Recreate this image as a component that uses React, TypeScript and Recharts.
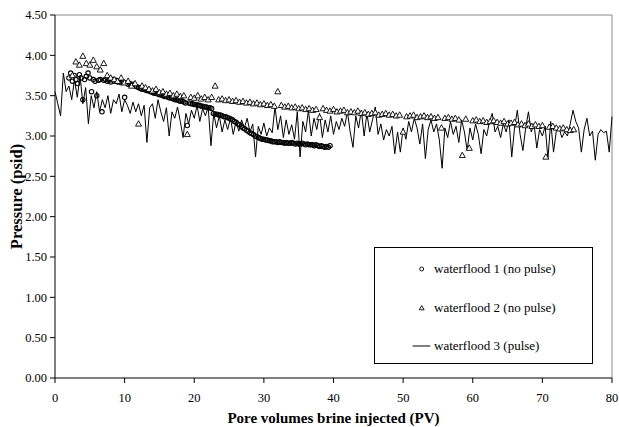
import { ScatterChart, Scatter, XAxis, YAxis, ReferenceLine, Legend } from 'recharts';

const FONT = '"Liberation Serif", "Times New Roman", serif';

const pvTicks = [0, 10, 20, 30, 40, 50, 60, 70, 80];
const pressureTicks = [0, 0.5, 1, 1.5, 2, 2.5, 3, 3.5, 4, 4.5];
const seriesNames = ['waterflood 1 (no pulse)', 'waterflood 2 (no pulse)', 'waterflood 3 (pulse)'];

// waterflood 1 (no pulse), logged every 0.25 PV starting at 2 PV
const wf1Start = 2;
const wf1Step = 0.25;
const wf1 = [
  3.72, 3.78, 3.68, 3.75, 3.70, 3.65, 3.76, 3.72, 3.45, 3.70, 3.74, 3.78, 3.72, 3.55, 3.70, 3.68, 3.50, 3.69, 3.70, 3.30,
  3.69, 3.70, 3.68, 3.69, 3.67, 3.70, 3.68, 3.69, 3.67, 3.68, 3.66, 3.67, 3.48, 3.66, 3.64, 3.65, 3.63, 3.64, 3.62, 3.61,
  3.60, 3.59, 3.58, 3.58, 3.57, 3.56, 3.56, 3.55, 3.54, 3.53, 3.53, 3.52, 3.51, 3.51, 3.50, 3.49, 3.49, 3.48, 3.47, 3.47,
  3.46, 3.45, 3.45, 3.44, 3.43, 3.43, 3.42, 3.41, 3.13, 3.41, 3.40, 3.40, 3.39, 3.39, 3.38, 3.38, 3.37, 3.37, 3.36, 3.36,
  3.35, 3.35, 3.34, 3.28, 3.27, 3.27, 3.26, 3.26, 3.25, 3.24, 3.24, 3.23, 3.22, 3.21, 3.20, 3.18, 3.17, 3.15, 3.14, 3.12,
  3.10, 3.09, 3.07, 3.06, 3.04, 3.03, 3.02, 3.00, 2.99, 2.98, 2.97, 2.96, 2.96, 2.95, 2.95, 2.94, 2.94, 2.93, 2.93, 2.93,
  2.92, 2.93, 2.92, 2.92, 2.91, 2.92, 2.91, 2.91, 2.92, 2.91, 2.90, 2.91, 2.90, 2.90, 2.91, 2.90, 2.89, 2.90, 2.89, 2.89,
  2.89, 2.88, 2.89, 2.88, 2.87, 2.88, 2.87, 2.86, 2.87, 2.86, 2.88,
];

// waterflood 2 (no pulse), logged every 0.5 PV starting at 2.5 PV
const wf2Start = 2.5;
const wf2Step = 0.5;
const wf2 = [
  3.75, 3.92, 3.88, 3.99, 3.90, 3.88, 3.94, 3.86, 3.82, 3.90,
  3.75, 3.72, 3.70, 3.68, 3.72, 3.66, 3.68, 3.62, 3.65, 3.15,
  3.62, 3.60, 3.58, 3.56, 3.58, 3.54, 3.55, 3.52, 3.53, 3.50,
  3.52, 3.49, 3.50, 3.02, 3.48, 3.47, 3.50, 3.46, 3.48, 3.45,
  3.48, 3.62, 3.45, 3.46, 3.44, 3.45, 3.43, 3.44, 3.42, 3.43,
  3.41, 3.42, 3.40, 3.41, 3.39, 3.40, 3.38, 3.39, 3.37, 3.55,
  3.38, 3.36, 3.37, 3.35, 3.36, 3.34, 3.35, 3.33, 3.34, 3.32,
  3.33, 3.23, 3.34, 3.32, 3.31, 3.33, 3.30, 3.31, 3.32, 3.29,
  3.30, 3.29, 3.31, 3.28, 3.29, 3.27, 3.28, 3.29, 3.26, 3.27,
  3.28, 3.26, 3.27, 3.25, 3.26, 3.05, 3.24, 3.25, 3.26, 3.23,
  3.24, 3.25, 3.23, 3.24, 3.22, 3.23, 3.10, 3.22, 3.23, 3.21,
  3.22, 3.20, 2.76, 3.21, 2.85, 3.19, 3.20, 3.18, 3.19, 3.17,
  3.18, 3.19, 3.17, 3.16, 3.18, 3.15, 3.16, 3.17, 3.14, 3.15,
  3.13, 3.15, 3.12, 3.14, 3.12, 3.13, 2.74, 3.11, 3.12, 3.10,
  3.09, 3.10, 3.08, 3.07, 3.08,
];

// waterflood 3 (pulse), logged every 0.4 PV from 0 to 80 PV
const wf3Start = 0;
const wf3Step = 0.4;
const wf3 = [
  3.55, 3.40, 3.25, 3.78, 3.55, 3.62, 3.45, 3.70, 3.48, 3.75, 3.40, 3.60, 3.15,
  3.50, 3.35, 3.55, 3.30, 3.45, 3.35, 3.50, 3.28, 3.45, 3.40, 3.52, 3.30, 3.45,
  3.38, 3.28, 3.42, 3.30, 3.40, 3.25, 3.38, 2.92, 3.35, 3.40, 3.22, 3.45, 3.30,
  3.18, 3.35, 3.00, 3.30, 3.22, 3.36, 3.18, 2.98, 3.28, 3.15, 3.32, 3.22, 3.38, 3.18, 3.34,
  3.25, 3.36, 2.88, 3.28, 3.10, 3.25, 3.05, 3.20, 3.08, 3.22, 3.02, 3.18, 3.06, 3.20,
  3.10, 3.22, 3.05, 3.15, 2.74, 3.12, 3.02, 3.16, 3.00, 3.10, 3.04, 3.36, 3.08, 3.25, 2.98, 3.20,
  3.02, 3.14, 2.96, 3.30, 2.74, 3.18, 3.05, 3.32, 3.00, 3.22, 3.08, 3.28, 2.98, 3.20, 3.05, 3.25, 3.02,
  3.18, 3.08, 3.22, 3.12, 3.30, 3.05, 2.86, 3.25, 3.10, 3.32, 3.00, 3.28, 3.05, 3.20, 3.36, 3.02, 3.15,
  2.95, 3.08, 3.00, 3.12, 2.78, 3.05, 2.80, 3.10, 2.96, 3.18, 3.05, 3.22, 3.10, 2.90, 3.15, 2.72, 3.08, 3.20,
  3.05, 3.15, 2.95, 2.60, 3.10, 2.98, 3.18, 3.02, 3.12, 2.92, 3.20, 3.05, 2.82, 3.10, 2.95, 3.15,
  3.02, 2.78, 3.08, 3.00, 3.18, 3.28, 3.05, 3.12, 2.98, 3.15, 3.05, 3.20, 2.74, 3.10, 3.32, 3.02,
  2.82, 3.10, 3.30, 3.05, 3.15, 2.85, 3.08, 3.00, 3.12, 2.72, 3.18, 2.80, 3.06, 3.10, 2.98, 3.05, 3.00,
  3.15, 3.32, 3.18, 3.10, 2.80, 3.08, 3.22, 3.00, 3.06, 2.70, 3.02, 3.08, 3.04, 3.06, 2.80, 3.24,
];

const toPoints = (start: number, step: number, values: number[]) =>
  values.map((p, i) => ({ pv: Math.round((start + i * step) * 100) / 100, p }));

const wf1Points = toPoints(wf1Start, wf1Step, wf1);
const wf2Points = toPoints(wf2Start, wf2Step, wf2);
const wf3Points = toPoints(wf3Start, wf3Step, wf3);

// open circles, no fill, so the dense run reads as a dark band like the original
const CircleMark = (props: any) => (
  <circle cx={props.cx} cy={props.cy} r={2.2} fill="none" stroke="#000" strokeWidth={1.1} />
);

const TriangleMark = (props: any) => {
  const { cx, cy } = props;
  return (
    <path
      d={`M${cx},${cy - 3.2} L${cx + 3},${cy + 2.2} L${cx - 3},${cy + 2.2} Z`}
      fill="#fff"
      stroke="#000"
      strokeWidth={0.9}
    />
  );
};

const NoMark = () => <g />;

const legendIcons = [
  <circle cx={10.7} cy={9} r={2} fill="#fff" stroke="#000" strokeWidth={0.9} />,
  <path d="M10.7,6.6 L13.1,10.8 L8.3,10.8 Z" fill="#fff" stroke="#000" strokeWidth={0.9} />,
  <line x1={1.7} y1={9} x2={19.3} y2={9} stroke="#000" strokeWidth={1} />,
];

const LegendBox = () => (
  <div
    style={{
      position: 'relative',
      width: 219,
      height: 117,
      boxSizing: 'border-box',
      border: '1px solid #000',
      background: '#fff',
      fontFamily: FONT,
      fontSize: 13,
      color: '#000',
    }}
  >
    {seriesNames.map((name, i) => (
      <div
        key={name}
        style={{
          position: 'absolute',
          left: 36,
          top: 12 + i * 38.5,
          height: 18,
          display: 'flex',
          alignItems: 'center',
          whiteSpace: 'nowrap',
        }}
      >
        <svg width={20} height={18}>{legendIcons[i]}</svg>
        <span style={{ marginLeft: 3 }}>{name}</span>
      </div>
    ))}
  </div>
);

const YTitle = (props: any) => {
  const { x, y, height } = props.viewBox;
  const cx = x + 16;
  const cy = y + height / 2;
  return (
    <text
      x={cx}
      y={cy}
      transform={`rotate(-90 ${cx} ${cy})`}
      textAnchor="middle"
      dominantBaseline="central"
      fontFamily={FONT}
      fontWeight="bold"
      fontSize={16.5}
      fill="#000"
    >
      Pressure (psid)
    </text>
  );
};

const XTitle = (props: any) => {
  const { x, y, width } = props.viewBox;
  return (
    <text
      x={x + width / 2}
      y={y + 45}
      textAnchor="middle"
      fontFamily={FONT}
      fontWeight="bold"
      fontSize={15}
      fill="#000"
    >
      Pore volumes brine injected (PV)
    </text>
  );
};

export default function App() {
  return (
    <div style={{ width: 619, height: 427, position: 'relative', fontFamily: FONT, background: '#fff' }}>
      <style>{'body { margin: 0; }'}</style>
      <ScatterChart width={619} height={427} margin={{ top: 15, right: 7, left: 0, bottom: 0 }}>
        <XAxis
          type="number"
          dataKey="pv"
          domain={[0, 80]}
          ticks={pvTicks}
          height={49}
          stroke="#000"
          tickSize={5}
          tickMargin={10}
          tick={{ fill: '#000', fontSize: 12.5, fontFamily: FONT }}
          label={{ content: XTitle }}
        />
        <YAxis
          type="number"
          dataKey="p"
          domain={[0, 4.5]}
          ticks={pressureTicks}
          width={55}
          stroke="#000"
          tickSize={5}
          tickMargin={3}
          tickFormatter={(v: number) => v.toFixed(2)}
          tick={{ fill: '#000', fontSize: 12.5, fontFamily: FONT }}
          label={{ content: YTitle }}
        />
        <ReferenceLine y={4.5} stroke="#888" strokeWidth={1} />
        <ReferenceLine x={80} stroke="#888" strokeWidth={1} />
        <Scatter
          name={seriesNames[2]}
          data={wf3Points}
          line={{ stroke: '#000', strokeWidth: 1 }}
          shape={NoMark}
          isAnimationActive={false}
        />
        <Scatter name={seriesNames[0]} data={wf1Points} shape={CircleMark} isAnimationActive={false} />
        <Scatter name={seriesNames[1]} data={wf2Points} shape={TriangleMark} isAnimationActive={false} />
        <Legend
          layout="horizontal"
          verticalAlign="middle"
          align="center"
          content={LegendBox}
          wrapperStyle={{ position: 'absolute', left: 374, top: 247, width: 219, height: 117 }}
        />
      </ScatterChart>
    </div>
  );
}
